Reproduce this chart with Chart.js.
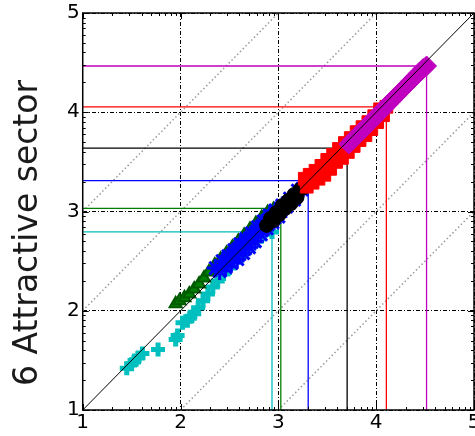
<!DOCTYPE html>
<html>
<head>
<meta charset="utf-8">
<script src="https://cdn.jsdelivr.net/npm/chart.js@4.4.0/dist/chart.umd.min.js"></script>
<style>
  html, body { margin: 0; padding: 0; overflow: hidden; background: #fff; }
  #wrap { width: 486px; height: 436px; }
</style>
</head>
<body>
<div id="wrap"><canvas id="myChart"></canvas></div>
<script>
// tick labels on both axes
const axisTicks = [1, 2, 3, 4, 5];
// dotted grey guides y = x + offset
const guideOffsets = [-2, -1, 1, 2];

// series
const cyanX = [1.45, 1.50, 1.53, 1.57, 1.61, 1.77, 1.95, 1.97, 2.02, 2.07, 2.10, 2.14, 2.18, 2.23, 2.28, 2.33, 2.38, 2.44, 2.50, 2.56, 2.62, 2.70, 2.78, 2.86, 2.935];
const cyanY = [1.42, 1.46, 1.50, 1.53, 1.57, 1.61, 1.71, 1.75, 1.88, 1.90, 1.94, 1.97, 2.03, 2.10, 2.17, 2.24, 2.30, 2.37, 2.43, 2.49, 2.55, 2.63, 2.70, 2.77, 2.794];

const greenX = [1.95, 1.99, 2.04, 2.09, 2.14, 2.19, 2.24, 2.29, 2.35, 2.41, 2.47, 2.53, 2.59, 2.65, 2.71, 2.77, 2.83, 2.89, 2.95, 3.025];
const greenY = [2.07, 2.10, 2.13, 2.17, 2.22, 2.27, 2.33, 2.39, 2.46, 2.52, 2.58, 2.64, 2.70, 2.76, 2.82, 2.88, 2.94, 2.99, 3.02, 3.031];

const blueX = [2.36, 2.40, 2.43, 2.46, 2.49, 2.52, 2.55, 2.58, 2.61, 2.64, 2.67, 2.70, 2.73, 2.76, 2.79, 2.82, 2.85, 2.88, 2.91, 2.94, 2.97, 3.00, 3.04, 3.08, 3.12, 3.16, 3.20, 3.24, 3.28, 3.305];
const blueY = [2.43, 2.40, 2.50, 2.44, 2.55, 2.48, 2.61, 2.52, 2.67, 2.58, 2.72, 2.64, 2.78, 2.70, 2.84, 2.77, 2.90, 2.83, 2.96, 2.89, 3.01, 2.95, 3.06, 3.05, 3.13, 3.12, 3.21, 3.22, 3.28, 3.311];

const blackX = [2.88, 2.92, 2.95, 2.98, 3.01, 3.04, 3.07, 3.10, 3.13, 3.16, 3.19, 3.22, 3.26, 3.31, 3.37, 3.43, 3.50, 3.57, 3.64, 3.703];
const blackY = [2.86, 2.93, 2.91, 2.99, 2.97, 3.06, 3.03, 3.11, 3.08, 3.17, 3.14, 3.22, 3.24, 3.28, 3.33, 3.39, 3.45, 3.51, 3.58, 3.639];

const redX = [3.27, 3.29, 3.32, 3.35, 3.38, 3.41, 3.44, 3.47, 3.50, 3.53, 3.56, 3.59, 3.62, 3.65, 3.68, 3.71, 3.74, 3.77, 3.80, 3.83, 3.86, 3.89, 3.92, 3.95, 3.98, 4.01, 4.04, 4.07, 4.104];
const redY = [3.33, 3.25, 3.37, 3.29, 3.41, 3.33, 3.46, 3.37, 3.52, 3.43, 3.57, 3.50, 3.63, 3.54, 3.69, 3.60, 3.74, 3.66, 3.80, 3.72, 3.85, 3.77, 3.90, 3.83, 3.96, 3.90, 4.03, 3.97, 4.055];

const magentaX = [3.72, 3.76, 3.80, 3.84, 3.88, 3.92, 3.96, 4.00, 4.04, 4.08, 4.12, 4.16, 4.20, 4.24, 4.28, 4.32, 4.36, 4.40, 4.44, 4.48, 4.515];
const magentaY = [3.68, 3.72, 3.76, 3.80, 3.84, 3.88, 3.92, 3.96, 4.00, 4.04, 4.08, 4.12, 4.16, 4.20, 4.24, 4.28, 4.32, 4.36, 4.40, 4.44, 4.466];

// corner of each series' L-shaped marker line (max x, max y)
const cornerX = [2.935, 3.025, 3.305, 3.703, 4.104, 4.515];
const cornerY = [2.794, 3.031, 3.311, 3.639, 4.055, 4.466];
const colors = ["#00BFBF", "#008000", "#0000FF", "#000000", "#FF0000", "#BF00BF"];

const pts = (xs, ys) => xs.map((x, i) => ({ x: x, y: ys[i] }));
const lo = axisTicks[0], hi = axisTicks[axisTicks.length - 1];

const datasets = [];

// y = x
datasets.push({
  data: [{ x: lo, y: lo }, { x: hi, y: hi }],
  showLine: true, pointRadius: 0, borderColor: "#000", borderWidth: 1, order: 0
});

// markers
datasets.push({ data: pts(magentaX, magentaY), pointStyle: "rectRot", pointRadius: 10,
  backgroundColor: colors[5], borderColor: colors[5], borderWidth: 1, order: 1 });
datasets.push({ data: pts(redX, redY), pointStyle: "rect", pointRadius: 9,
  backgroundColor: colors[4], borderColor: colors[4], borderWidth: 1, order: 2 });
datasets.push({ data: pts(blackX, blackY), pointStyle: "circle", pointRadius: 7,
  backgroundColor: "#000", borderColor: "#000", borderWidth: 1, order: 3 });
datasets.push({ data: pts(blueX, blueY), pointStyle: "star", pointRadius: 9,
  backgroundColor: colors[2], borderColor: colors[2], borderWidth: 3, order: 4 });
datasets.push({ data: pts(greenX, greenY), pointStyle: "triangle", pointRadius: 7,
  backgroundColor: colors[1], borderColor: "#005a00", borderWidth: 2, order: 5 });
datasets.push({ data: pts(cyanX, cyanY), pointStyle: "cross", pointRadius: 7,
  backgroundColor: colors[0], borderColor: colors[0], borderWidth: 5, order: 6 });

// L lines
cornerX.forEach((cx, i) => {
  datasets.push({
    data: [{ x: lo, y: cornerY[i] }, { x: cx, y: cornerY[i] }, { x: cx, y: lo }],
    showLine: true, pointRadius: 0, borderColor: colors[i], borderWidth: 1.3, order: 7
  });
});

// grey guides
guideOffsets.forEach(c => {
  const a = c > 0 ? { x: lo, y: lo + c } : { x: lo - c, y: lo };
  const b = c > 0 ? { x: hi - c, y: hi } : { x: hi, y: hi + c };
  datasets.push({
    data: [a, b], showLine: true, pointRadius: 0,
    borderColor: "#9a9a9a", borderWidth: 1.5, borderDash: [1.5, 2.5], order: 8
  });
});

// frame + inward ticks on all four sides + y title
const framePlugin = {
  id: "frame",
  afterDatasetsDraw(chart) {
    const { ctx, chartArea: a, scales } = chart;
    const minor = [];
    for (let n = lo; n < hi; n++) {
      for (let k = 2; k <= 9; k++) minor.push(n + Math.log10(k));
    }
    ctx.save();
    ctx.strokeStyle = "#000";
    ctx.lineWidth = 1;
    ctx.beginPath();
    const tick = (v, len) => {
      const px = Math.round(scales.x.getPixelForValue(v)) + 0.5;
      const py = Math.round(scales.y.getPixelForValue(v)) + 0.5;
      ctx.moveTo(px, a.bottom); ctx.lineTo(px, a.bottom - len);
      ctx.moveTo(px, a.top); ctx.lineTo(px, a.top + len);
      ctx.moveTo(a.left, py); ctx.lineTo(a.left + len, py);
      ctx.moveTo(a.right, py); ctx.lineTo(a.right - len, py);
    };
    axisTicks.forEach(v => tick(v, 6));
    minor.forEach(v => tick(v, 3));
    ctx.stroke();
    ctx.lineWidth = 1.5;
    ctx.strokeRect(a.left, a.top, a.right - a.left, a.bottom - a.top);

    ctx.translate(28, 233);
    ctx.rotate(-Math.PI / 2);
    ctx.font = "33px 'DejaVu Sans'";
    ctx.fillStyle = "#1a1a1a";
    ctx.textAlign = "center";
    ctx.textBaseline = "middle";
    ctx.fillText("6 Attractive sector", 0, 0);
    ctx.restore();
  }
};

const axisOpts = {
  type: "linear",
  min: lo,
  max: hi,
  afterBuildTicks: s => { s.ticks = axisTicks.map(v => ({ value: v })); },
  ticks: { font: { family: "DejaVu Sans", size: 20, lineHeight: 1 }, color: "#000", padding: 3, maxRotation: 0 },
  grid: { color: "#000", lineWidth: 1, drawTicks: false },
  border: { display: false, dash: [4, 2, 1, 2] }
};

new Chart(document.getElementById("myChart"), {
  type: "scatter",
  data: { datasets: datasets },
  options: {
    responsive: true,
    maintainAspectRatio: false,
    animation: false,
    layout: { padding: { left: 64, top: 7, right: 0, bottom: 0 } },
    plugins: { legend: { display: false }, tooltip: { enabled: false } },
    scales: { x: axisOpts, y: axisOpts }
  },
  plugins: [framePlugin]
});
</script>
</body>
</html>
